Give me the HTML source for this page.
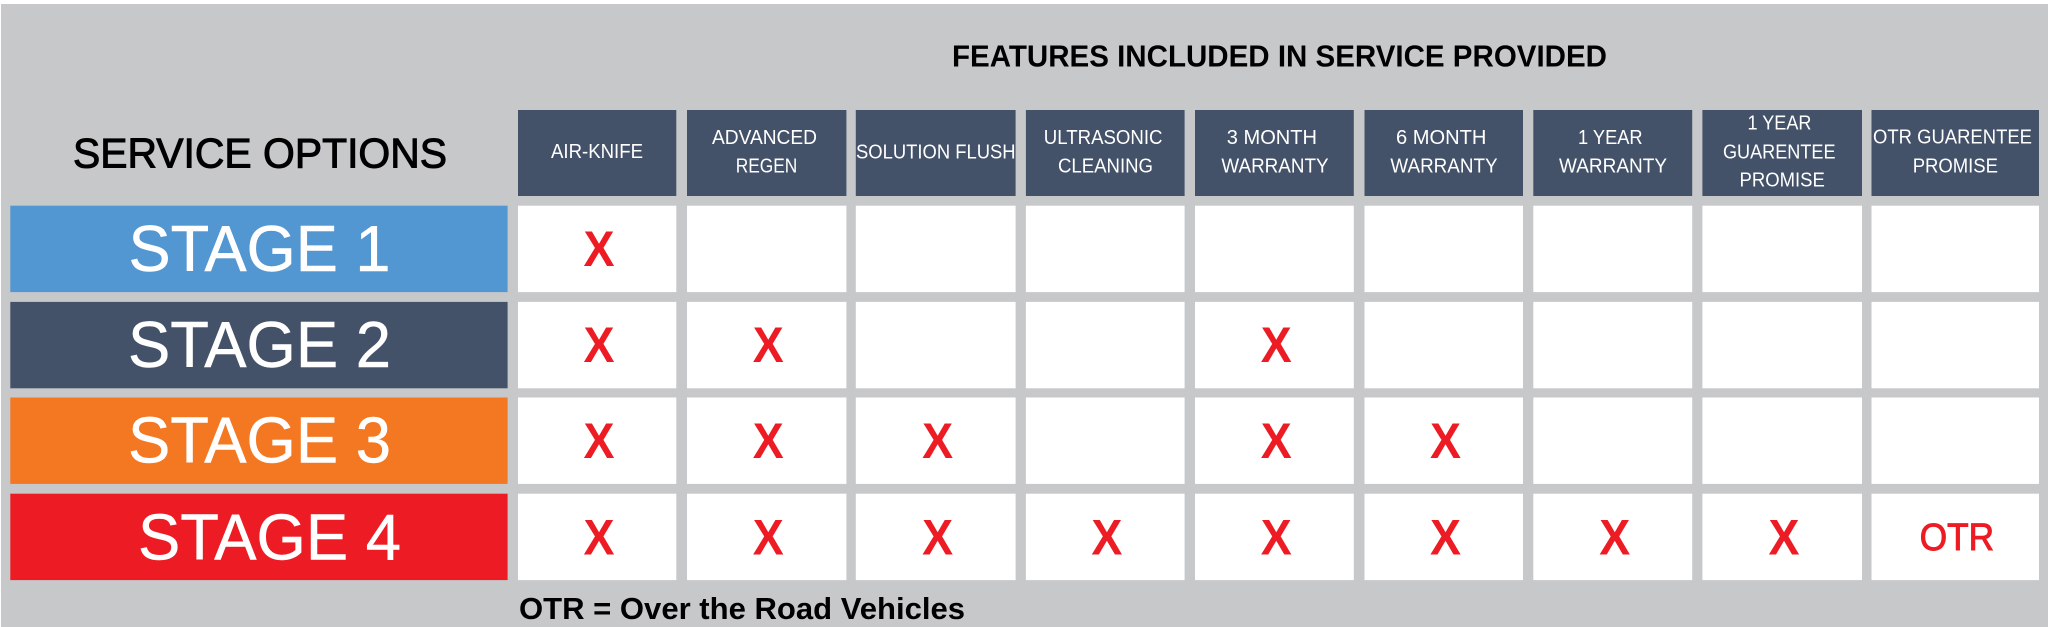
<!DOCTYPE html>
<html><head><meta charset="utf-8"><style>
html,body{margin:0;padding:0;background:#fff;width:2048px;height:627px;overflow:hidden}
svg{display:block}
text{font-family:"Liberation Sans",sans-serif}
.h{fill:#fff;font-size:20px}
.s{fill:#fff;font-size:65px;stroke:#fff;stroke-width:.5px}
.x{fill:#ed1c24;font-size:50px;font-weight:bold}
</style></head><body>
<svg width="2048" height="627" viewBox="0 0 2048 627" xmlns="http://www.w3.org/2000/svg">
<rect x="1" y="4" width="2047" height="623" fill="#c7c8ca"/>
<g fill="#445269">
<rect x="518" y="110" width="158.3" height="86"/><rect x="687" y="110" width="159.4" height="86"/><rect x="855.8" y="110" width="159.8" height="86"/><rect x="1025.9" y="110" width="158.7" height="86"/><rect x="1195" y="110" width="158.8" height="86"/><rect x="1364.5" y="110" width="158.5" height="86"/><rect x="1533.3" y="110" width="158.9" height="86"/><rect x="1702.4" y="110" width="159.6" height="86"/><rect x="1871.5" y="110" width="167.5" height="86"/>
</g>
<rect x="10.3" y="205.7" width="497.3" height="86.4" fill="#5296d2"/>
<rect x="10.3" y="301.9" width="497.3" height="86.4" fill="#445269"/>
<rect x="10.3" y="397.5" width="497.3" height="86.4" fill="#f47721"/>
<rect x="10.3" y="493.7" width="497.3" height="86.4" fill="#ed1c24"/>
<g fill="#fff">
<g><rect x="518" y="205.7" width="158.3" height="86.4"/><rect x="687" y="205.7" width="159.4" height="86.4"/><rect x="855.8" y="205.7" width="159.8" height="86.4"/><rect x="1025.9" y="205.7" width="158.7" height="86.4"/><rect x="1195" y="205.7" width="158.8" height="86.4"/><rect x="1364.5" y="205.7" width="158.5" height="86.4"/><rect x="1533.3" y="205.7" width="158.9" height="86.4"/><rect x="1702.4" y="205.7" width="159.6" height="86.4"/><rect x="1871.5" y="205.7" width="167.5" height="86.4"/></g>
<g><rect x="518" y="301.9" width="158.3" height="86.4"/><rect x="687" y="301.9" width="159.4" height="86.4"/><rect x="855.8" y="301.9" width="159.8" height="86.4"/><rect x="1025.9" y="301.9" width="158.7" height="86.4"/><rect x="1195" y="301.9" width="158.8" height="86.4"/><rect x="1364.5" y="301.9" width="158.5" height="86.4"/><rect x="1533.3" y="301.9" width="158.9" height="86.4"/><rect x="1702.4" y="301.9" width="159.6" height="86.4"/><rect x="1871.5" y="301.9" width="167.5" height="86.4"/></g>
<g><rect x="518" y="397.5" width="158.3" height="86.4"/><rect x="687" y="397.5" width="159.4" height="86.4"/><rect x="855.8" y="397.5" width="159.8" height="86.4"/><rect x="1025.9" y="397.5" width="158.7" height="86.4"/><rect x="1195" y="397.5" width="158.8" height="86.4"/><rect x="1364.5" y="397.5" width="158.5" height="86.4"/><rect x="1533.3" y="397.5" width="158.9" height="86.4"/><rect x="1702.4" y="397.5" width="159.6" height="86.4"/><rect x="1871.5" y="397.5" width="167.5" height="86.4"/></g>
<g><rect x="518" y="493.7" width="158.3" height="86.4"/><rect x="687" y="493.7" width="159.4" height="86.4"/><rect x="855.8" y="493.7" width="159.8" height="86.4"/><rect x="1025.9" y="493.7" width="158.7" height="86.4"/><rect x="1195" y="493.7" width="158.8" height="86.4"/><rect x="1364.5" y="493.7" width="158.5" height="86.4"/><rect x="1533.3" y="493.7" width="158.9" height="86.4"/><rect x="1702.4" y="493.7" width="159.6" height="86.4"/><rect x="1871.5" y="493.7" width="167.5" height="86.4"/></g>
</g>
<text x="952" y="66.5" font-size="31" font-weight="bold" fill="#000" textLength="655" lengthAdjust="spacingAndGlyphs">FEATURES INCLUDED IN SERVICE PROVIDED</text>
<text x="73" y="167.5" font-size="42" fill="#000" stroke="#000" stroke-width="1" textLength="374" lengthAdjust="spacingAndGlyphs">SERVICE OPTIONS</text>
<text x="519" y="619" font-size="31" font-weight="bold" fill="#000" textLength="446" lengthAdjust="spacingAndGlyphs">OTR = Over the Road Vehicles</text>

<text class="h" x="551" y="158" textLength="92" lengthAdjust="spacingAndGlyphs">AIR-KNIFE</text>
<text class="h" x="712" y="144" textLength="105" lengthAdjust="spacingAndGlyphs">ADVANCED</text>
<text class="h" x="735.7" y="172.7" textLength="61.6" lengthAdjust="spacingAndGlyphs">REGEN</text>
<text class="h" x="856" y="158.3" textLength="159.6" lengthAdjust="spacingAndGlyphs">SOLUTION FLUSH</text>
<text class="h" x="1043.8" y="144" textLength="118.7" lengthAdjust="spacingAndGlyphs">ULTRASONIC</text>
<text class="h" x="1058" y="172.7" textLength="95" lengthAdjust="spacingAndGlyphs">CLEANING</text>
<text class="h" x="1226.8" y="144" textLength="90.2" lengthAdjust="spacingAndGlyphs">3 MONTH</text>
<text class="h" x="1221.4" y="172.7" textLength="107.2" lengthAdjust="spacingAndGlyphs">WARRANTY</text>
<text class="h" x="1396" y="144" textLength="90.4" lengthAdjust="spacingAndGlyphs">6 MONTH</text>
<text class="h" x="1390.4" y="172.7" textLength="107.2" lengthAdjust="spacingAndGlyphs">WARRANTY</text>
<text class="h" x="1578" y="144" textLength="64.6" lengthAdjust="spacingAndGlyphs">1 YEAR</text>
<text class="h" x="1559" y="172.7" textLength="108" lengthAdjust="spacingAndGlyphs">WARRANTY</text>
<text class="h" x="1747.5" y="129.3" textLength="63.9" lengthAdjust="spacingAndGlyphs">1 YEAR</text>
<text class="h" x="1723" y="158.3" textLength="112.5" lengthAdjust="spacingAndGlyphs">GUARENTEE</text>
<text class="h" x="1739.5" y="186.7" textLength="85.3" lengthAdjust="spacingAndGlyphs">PROMISE</text>
<text class="h" x="1873" y="143.6" textLength="159" lengthAdjust="spacingAndGlyphs">OTR GUARENTEE</text>
<text class="h" x="1912.7" y="172.7" textLength="85.3" lengthAdjust="spacingAndGlyphs">PROMISE</text>

<text class="s" x="128.5" y="271" textLength="262" lengthAdjust="spacingAndGlyphs">STAGE 1</text>
<text class="s" x="128" y="366.8" textLength="263" lengthAdjust="spacingAndGlyphs">STAGE 2</text>
<text class="s" x="128" y="462.6" textLength="263" lengthAdjust="spacingAndGlyphs">STAGE 3</text>
<text class="s" x="138" y="559.3" textLength="263" lengthAdjust="spacingAndGlyphs">STAGE 4</text>

<g>
<text class="x" x="583.5" y="266" textLength="31" lengthAdjust="spacingAndGlyphs">X</text>
<text class="x" x="583.5" y="362" textLength="31" lengthAdjust="spacingAndGlyphs">X</text>
<text class="x" x="752.8" y="362" textLength="31" lengthAdjust="spacingAndGlyphs">X</text>
<text class="x" x="1260.7" y="362" textLength="31" lengthAdjust="spacingAndGlyphs">X</text>
<text class="x" x="583.5" y="458.2" textLength="31" lengthAdjust="spacingAndGlyphs">X</text>
<text class="x" x="752.8" y="458.2" textLength="31" lengthAdjust="spacingAndGlyphs">X</text>
<text class="x" x="922.1" y="458.2" textLength="31" lengthAdjust="spacingAndGlyphs">X</text>
<text class="x" x="1260.7" y="458.2" textLength="31" lengthAdjust="spacingAndGlyphs">X</text>
<text class="x" x="1430" y="458.2" textLength="31" lengthAdjust="spacingAndGlyphs">X</text>
<text class="x" x="583.5" y="554.4" textLength="31" lengthAdjust="spacingAndGlyphs">X</text>
<text class="x" x="752.8" y="554.4" textLength="31" lengthAdjust="spacingAndGlyphs">X</text>
<text class="x" x="922.1" y="554.4" textLength="31" lengthAdjust="spacingAndGlyphs">X</text>
<text class="x" x="1091.4" y="554.4" textLength="31" lengthAdjust="spacingAndGlyphs">X</text>
<text class="x" x="1260.7" y="554.4" textLength="31" lengthAdjust="spacingAndGlyphs">X</text>
<text class="x" x="1430" y="554.4" textLength="31" lengthAdjust="spacingAndGlyphs">X</text>
<text class="x" x="1599.3" y="554.4" textLength="31" lengthAdjust="spacingAndGlyphs">X</text>
<text class="x" x="1768.5" y="554.4" textLength="31" lengthAdjust="spacingAndGlyphs">X</text>
</g>
<text x="1919.7" y="550.2" font-size="38" fill="#ed1c24" stroke="#ed1c24" stroke-width="1" textLength="74.3" lengthAdjust="spacingAndGlyphs">OTR</text>
</svg>
</body></html>
